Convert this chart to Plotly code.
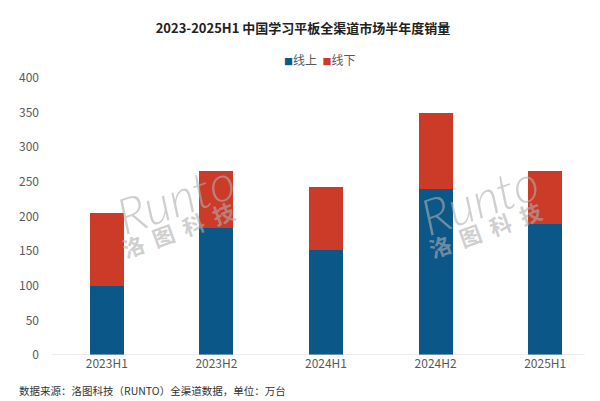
import plotly.graph_objects as go

categories = ["2023H1", "2023H2", "2024H1", "2024H2", "2025H1"]
online = [99, 184, 152, 239, 189]
offline = [106, 81, 90, 110, 77]
y_ticks = [0, 50, 100, 150, 200, 250, 300, 350, 400]
series_names = ["线上", "线下"]

BLUE = "#0B5788"
RED = "#CC3A28"
GRAY = "#595959"
FONT = "Noto Sans CJK SC, Noto Sans, sans-serif"

fig = go.Figure()
fig.add_trace(go.Bar(x=categories, y=online, name=series_names[0], showlegend=False,
                     marker=dict(color=BLUE, line=dict(width=0))))
fig.add_trace(go.Bar(x=categories, y=offline, name=series_names[1], showlegend=False,
                     marker=dict(color=RED, line=dict(width=0))))

W, H = 600, 401
left, right, top, bottom = 52, 0, 78, 46
PW, PH = W - left - right, H - top - bottom

fig.update_layout(
    width=W, height=H,
    barmode="stack", bargap=0.69,
    margin=dict(l=left, r=right, t=top, b=bottom, autoexpand=False),
    paper_bgcolor="white", plot_bgcolor="white",
    font=dict(family=FONT, size=12, color=GRAY),
    title=dict(
        text="<b>2023-2025H1 中国学习平板全渠道市场半年度销量</b>",
        x=303 / W, xref="container", xanchor="center",
        y=1 - 28 / H, yref="container", yanchor="middle",
        font=dict(family=FONT, size=13, color="#222222"),
    ),
    xaxis=dict(
        type="category", range=[-0.5, 4.5],
        showline=False, showgrid=False, ticks="", zeroline=False,
        tickfont=dict(family=FONT, size=12, color=GRAY),
    ),
    yaxis=dict(
        range=[0, 400], tickvals=y_ticks,
        showgrid=False, zeroline=False, showline=False, ticks="",
        ticklabelstandoff=12,
        tickfont=dict(family=FONT, size=12, color=GRAY),
    ),
    showlegend=False,
)

# legend (compact, as in the reference)
legend_text = "".join(
    f'<span style="color:{c};font-size:9px">■</span>{n}&nbsp;&nbsp;'
    for n, c in zip(series_names, [BLUE, RED])
)
fig.add_annotation(text=legend_text, xref="paper", yref="paper",
                   xanchor="center", yanchor="middle",
                   x=(322 - left) / PW, y=1 + (top - 60) / PH,
                   showarrow=False, font=dict(family=FONT, size=12, color=GRAY))

# baseline
fig.add_shape(type="line", xref="x", yref="y", x0=-0.5, x1=4.36, y0=0, y1=0,
              line=dict(color="#D9D9D9", width=1))

# watermarks
for cx_r, cy_r, cx_c, cy_c in [(175, 198, 178, 229), (479, 199, 485, 229)]:
    fig.add_annotation(text="Runto", xref="paper", yref="paper",
                       xanchor="center", yanchor="middle",
                       x=(cx_r - left) / PW, y=1 - (cy_r - top) / PH,
                       showarrow=False, textangle=-19,
                       font=dict(family="Lato, sans-serif", size=50, weight=300, style="italic",
                                 color="rgba(175,175,175,0.6)"))
    fig.add_annotation(text="<b>洛  图  科  技</b>", xref="paper", yref="paper",
                       xanchor="center", yanchor="middle",
                       x=(cx_c - left) / PW, y=1 - (cy_c - top) / PH,
                       showarrow=False, textangle=-20,
                       font=dict(family=FONT, size=22, color="rgba(175,175,175,0.6)"))

# footer source note
fig.add_annotation(text="数据来源：洛图科技（RUNTO）全渠道数据，单位：万台",
                   xref="paper", yref="paper", xanchor="left", yanchor="middle",
                   x=(17 - left) / PW, y=-(390 - (H - bottom)) / PH,
                   showarrow=False, font=dict(family=FONT, size=10.5, color="#333333"))

fig.write_html("out.html", config={"displayModeBar": False},
               post_script="document.body.style.margin='0';document.body.style.overflow='hidden';")
